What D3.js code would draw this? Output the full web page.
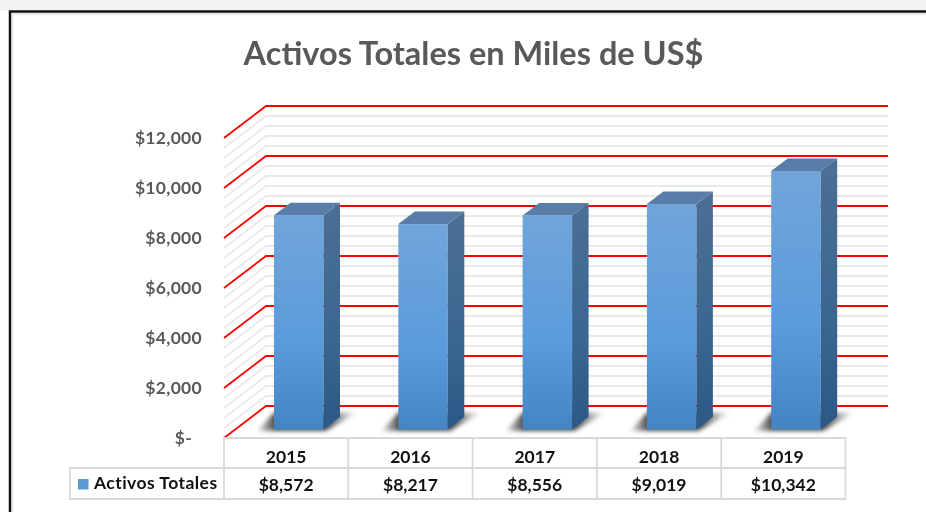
<!DOCTYPE html>
<html>
<head>
<meta charset="utf-8">
<script src="https://cdn.jsdelivr.net/npm/d3@7"></script>
<style>
    html, body { margin: 0; padding: 0; background: #fff; overflow: hidden; }
    text { font-family: Lato, "Open Sans", sans-serif; font-weight: 700; }
</style>
</head>
<body>
<div id="chart"></div>
<script>
'use strict';

var years = ["2015", "2016", "2017", "2018", "2019"];
var activos = [8572, 8217, 8556, 9019, 10342];
var valueLabels = ["$8,572", "$8,217", "$8,556", "$9,019", "$10,342"];
var yTicks = [0, 2000, 4000, 6000, 8000, 10000, 12000];
var yTickLabels = ["$-", "$2,000", "$4,000", "$6,000", "$8,000", "$10,000", "$12,000"];
var minorTicks = d3.range(0, 12000, 400).filter(function(d) { return d % 2000 !== 0; });
var seriesName = "Activos Totales";
var chartTitle = "Activos Totales en Miles de US$";

var width = 926, height = 512;

// the reference is a soft screenshot, so the whole picture gets a slight blur
var svg = d3.select("#chart").append("svg")
    .attr("width", width)
    .attr("height", height)
    .style("display", "block")
    .style("filter", "blur(0.4px)");

var defs = svg.append("defs");

function addGradient(id, stops) {
    var g = defs.append("linearGradient")
        .attr("id", id)
        .attr("x1", 0).attr("y1", 0).attr("x2", 0).attr("y2", 1);
    stops.forEach(function(s) {
        g.append("stop").attr("offset", s[0]).attr("stop-color", s[1]);
    });
}
addGradient("frontGrad", [[0, "#71a5da"], [0.6, "#5b9bdc"], [1, "#4484c3"]]);
addGradient("sideGrad", [[0, "#4c6f95"], [0.6, "#3a6690"], [1, "#2b5885"]]);

defs.append("filter").attr("id", "shadowBlur")
    .attr("x", "-20%").attr("y", "-40%").attr("width", "140%").attr("height", "180%")
    .append("feGaussianBlur").attr("stdDeviation", 2.2);

var shadowGrad = defs.append("linearGradient")
    .attr("id", "shadowGrad")
    .attr("x1", 0).attr("y1", 0).attr("x2", 1).attr("y2", 0);
shadowGrad.append("stop").attr("offset", 0).attr("stop-color", "#444").attr("stop-opacity", 0.1);
shadowGrad.append("stop").attr("offset", 0.17).attr("stop-color", "#333").attr("stop-opacity", 0.85);
shadowGrad.append("stop").attr("offset", 0.72).attr("stop-color", "#333").attr("stop-opacity", 0.85);
shadowGrad.append("stop").attr("offset", 1).attr("stop-color", "#666").attr("stop-opacity", 0);

// page background and the black frame round the chart
svg.append("rect").attr("width", width).attr("height", height).attr("fill", "#fff");
svg.append("rect").attr("width", width).attr("height", 11).attr("fill", "#f2f4f4");
svg.append("path")
    .attr("d", "M10,512V11.5H926")
    .attr("fill", "none")
    .attr("stroke", "#111")
    .attr("stroke-width", 2.5);
svg.append("path")
    .attr("d", "M12.5,512V14H926")
    .attr("fill", "none")
    .attr("stroke", "#e4e4e4")
    .attr("stroke-width", 1.5);

svg.append("text")
    .attr("x", 473.5)
    .attr("y", 65)
    .attr("text-anchor", "middle")
    .attr("font-size", 32.5)
    .attr("fill", "#595959")
    .text(chartTitle);

// scales: front edge of the 3d floor/wall
var floorY = 438, wallTopY = 138;
var y = d3.scaleLinear().domain([0, 12000]).range([floorY, wallTopY]);
var x = d3.scaleBand().domain(years).range([224, 845.5]);

var depthX = 42, depthY = 32, backRight = 888;

function drawGrid(values, color, sw) {
    svg.append("g")
        .selectAll("path")
        .data(values)
        .enter().append("path")
        .attr("d", function(d) {
            var y0 = y(d);
            return "M" + x.range()[0] + "," + y0 +
                "L" + (x.range()[0] + depthX) + "," + (y0 - depthY) +
                "H" + backRight;
        })
        .attr("fill", "none")
        .attr("stroke", color)
        .attr("stroke-width", sw);
}
drawGrid(minorTicks, "#e9e9e9", 1.8);
drawGrid(yTicks, "#ff0000", 1.8);

// bars sit a little way into the floor
var barOffset = 50, barWidth = 49.5, barDx = 16.5, barDy = 12.5, barLift = 8.5;

var bars = svg.selectAll(".bar")
    .data(years)
    .enter().append("g")
    .attr("class", "bar");

function barLeft(d) { return x(d) + barOffset; }
function barTop(d, i) { return y(activos[i]) - barLift; }
var base = y(0) - barLift;

bars.append("path")
    .attr("d", function(d) {
        var l = barLeft(d);
        return "M" + (l - 17) + "," + (base + 1.5) +
            "L" + (l + barWidth + 2) + "," + (base + 1.5) +
            "L" + (l + barWidth + 34) + "," + (base - 17) +
            "L" + l + "," + (base - 17) + "Z";
    })
    .attr("fill", "url(#shadowGrad)")
    .attr("filter", "url(#shadowBlur)");

bars.append("rect")
    .attr("x", barLeft)
    .attr("y", barTop)
    .attr("width", barWidth)
    .attr("height", function(d, i) { return base - barTop(d, i); })
    .attr("fill", "url(#frontGrad)");

bars.append("path")
    .attr("d", function(d, i) {
        var r = barLeft(d) + barWidth, t = barTop(d, i);
        return "M" + r + "," + t + "L" + (r + barDx) + "," + (t - barDy) +
            "V" + (base - barDy) + "L" + r + "," + base + "Z";
    })
    .attr("fill", "url(#sideGrad)");

bars.append("path")
    .attr("d", function(d, i) {
        var l = barLeft(d), t = barTop(d, i);
        return "M" + l + "," + t + "L" + (l + barDx) + "," + (t - barDy) +
            "H" + (l + barWidth + barDx) + "L" + (l + barWidth) + "," + t + "Z";
    })
    .attr("fill", "#587da8");

// y axis labels
var yAxis = svg.append("g")
    .attr("transform", "translate(202,0)")
    .call(d3.axisLeft(y)
        .tickValues(yTicks)
        .tickSize(0)
        .tickPadding(0)
        .tickFormat(function(d, i) { return yTickLabels[i]; }));
yAxis.select(".domain").remove();
yAxis.selectAll("text")
    .attr("font-size", 17.5)
    .attr("fill", "#595959")
    .attr("letter-spacing", 0.3)
    .attr("dx", function(d) { return d === 0 ? -10 : 0; })
    .style("font-family", "Lato, 'Open Sans', sans-serif")
    .style("font-weight", 700);

// data table under the chart
var tableTop = 438, tableMid = 468, tableBottom = 499, tableLeft = 70;
var table = svg.append("g")
    .attr("fill", "none")
    .attr("stroke", "#d9d9d9")
    .attr("stroke-width", 1.8);

table.append("path")
    .attr("d", "M" + x.range()[0] + "," + tableTop + "H" + x.range()[1] +
        "V" + tableBottom + "H" + tableLeft + "V" + tableMid + "H" + x.range()[1]);
table.selectAll(".col")
    .data(years)
    .enter().append("line")
    .attr("x1", function(d) { return x(d); })
    .attr("x2", function(d) { return x(d); })
    .attr("y1", tableTop)
    .attr("y2", tableBottom);

function centre(d) { return x(d) + x.bandwidth() / 2; }

svg.append("g").selectAll("text")
    .data(years)
    .enter().append("text")
    .attr("x", centre)
    .attr("y", 462.5)
    .attr("text-anchor", "middle")
    .attr("font-size", 17.5)
    .attr("fill", "#111")
    .text(function(d) { return d; });

svg.append("g").selectAll("text")
    .data(years)
    .enter().append("text")
    .attr("x", centre)
    .attr("y", 490.5)
    .attr("text-anchor", "middle")
    .attr("font-size", 17.5)
    .attr("fill", "#111")
    .text(function(d, i) { return valueLabels[i]; });

svg.append("rect")
    .attr("x", 78).attr("y", 479)
    .attr("width", 10.5).attr("height", 10.5)
    .attr("fill", "#5b9bd5");

svg.append("text")
    .attr("x", 94)
    .attr("y", 489)
    .attr("font-size", 17.5)
    .attr("letter-spacing", 0.45)
    .attr("fill", "#111")
    .text(seriesName);
</script>
</body>
</html>
